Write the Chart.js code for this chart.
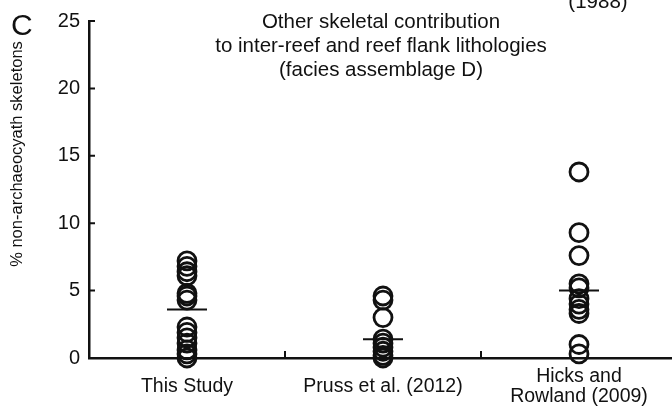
<!DOCTYPE html>
<html>
<head>
<meta charset="utf-8">
<script src="https://cdn.jsdelivr.net/npm/chart.js@4.4.1/dist/chart.umd.min.js"></script>
<style>
  html, body { margin: 0; padding: 0; background: #fff; overflow: hidden; }
  #wrap { width: 680px; height: 417px; }
</style>
</head>
<body>
<div id="wrap"><canvas id="chart"></canvas></div>
<script>
// groups along the x axis, and how their tick labels wrap
const categories = ['This Study', 'Pruss et al. (2012)', 'Hicks and Rowland (2009)'];
const tickLabels = ['This Study', 'Pruss et al. (2012)', ['Hicks and', 'Rowland (2009)']];

// % non-archaeocyath skeletons per sample
const thisStudy = [7.2, 6.8, 6.4, 6.1, 4.8, 4.6, 4.3, 2.3, 1.9, 1.5, 1.1, 0.6, 0.3, 0];
const pruss2012 = [4.6, 4.3, 3.0, 1.4, 1.1, 0.8, 0.5, 0.2, 0];
const hicksRowland2009 = [13.8, 9.3, 7.6, 5.5, 5.2, 4.4, 4.0, 3.6, 3.3, 1.0, 0.3];

// group means (horizontal bars)
const groupMeans = [3.6, 1.4, 5.0];

const yTicks = [0, 5, 10, 15, 20, 25];

const titleLines = ['Other skeletal contribution', 'to inter-reef and reef flank lithologies', '(facies assemblage D)'];
const yTitle = '% non-archaeocyath skeletons';

const ink = '#111';
const font = 'Arial, "Liberation Sans", sans-serif';

const toPoints = (vals, cat) => vals.map(v => ({ x: cat, y: v }));

const circleStyle = {
  pointStyle: 'circle',
  pointRadius: 9,
  pointHoverRadius: 9,
  pointBorderWidth: 2.8,
  borderColor: ink,
  backgroundColor: 'rgba(0,0,0,0)',
  clip: false
};

// inward tick marks + panel letter, title and y title
const decorations = {
  id: 'decorations',
  afterDraw(chart) {
    const { ctx, chartArea, scales: { x, y } } = chart;
    ctx.save();
    ctx.strokeStyle = ink;
    ctx.lineWidth = 2;
    ctx.beginPath();
    yTicks.forEach(t => {
      const py = y.getPixelForValue(t);
      ctx.moveTo(chartArea.left, py);
      ctx.lineTo(chartArea.left + 6, py);
    });
    for (let i = 1; i < categories.length; i++) {
      const px = (x.getPixelForValue(i - 1) + x.getPixelForValue(i)) / 2;
      ctx.moveTo(px, chartArea.bottom);
      ctx.lineTo(px, chartArea.bottom - 7);
    }
    ctx.stroke();

    ctx.fillStyle = ink;
    ctx.textBaseline = 'middle';
    ctx.textAlign = 'left';
    ctx.font = '30px ' + font;
    ctx.fillText('C', 11, 27);

    ctx.textAlign = 'center';
    ctx.font = '20.5px ' + font;
    titleLines.forEach((line, i) => ctx.fillText(line, 381, 22 + i * 24));
    ctx.fillText('(1988)', 598, 2);

    ctx.translate(17, 154);
    ctx.rotate(-Math.PI / 2);
    ctx.font = '16.5px ' + font;
    ctx.fillText(yTitle, 0, 0);
    ctx.restore();
  }
};

new Chart(document.getElementById('chart'), {
  type: 'scatter',
  data: {
    labels: categories,
    datasets: [
      { data: toPoints(thisStudy, categories[0]), ...circleStyle },
      { data: toPoints(pruss2012, categories[1]), ...circleStyle },
      { data: toPoints(hicksRowland2009, categories[2]), ...circleStyle },
      {
        data: groupMeans.map((m, i) => ({ x: categories[i], y: m })),
        pointStyle: 'line',
        pointRadius: 20,
        pointHoverRadius: 20,
        pointBorderWidth: 2,
        borderColor: ink,
        clip: false
      }
    ]
  },
  options: {
    responsive: true,
    maintainAspectRatio: false,
    animation: false,
    layout: { autoPadding: false, padding: { top: 17, right: 3, left: 0, bottom: 0 } },
    plugins: { legend: { display: false }, tooltip: { enabled: false } },
    scales: {
      x: {
        type: 'category',
        labels: categories,
        offset: true,
        grid: { display: false, drawTicks: false },
        border: { display: true, color: ink, width: 2.5 },
        ticks: {
          color: ink,
          font: { family: font, size: 19.5, lineHeight: 1.0 },
          padding: 19,
          maxRotation: 0,
          autoSkip: false,
          crossAlign: 'center',
          callback: (value, i) => tickLabels[i]
        },
        afterFit(scale) { scale.height = 59; }
      },
      y: {
        min: 0,
        max: 25,
        grid: { display: false, drawTicks: false },
        border: { display: true, color: ink, width: 2.5 },
        afterBuildTicks(scale) { scale.ticks = yTicks.map(v => ({ value: v })); },
        ticks: { color: ink, font: { family: font, size: 20 }, padding: 9 },
        afterFit(scale) { scale.width = 89; }
      }
    }
  },
  plugins: [decorations]
});
</script>
</body>
</html>
